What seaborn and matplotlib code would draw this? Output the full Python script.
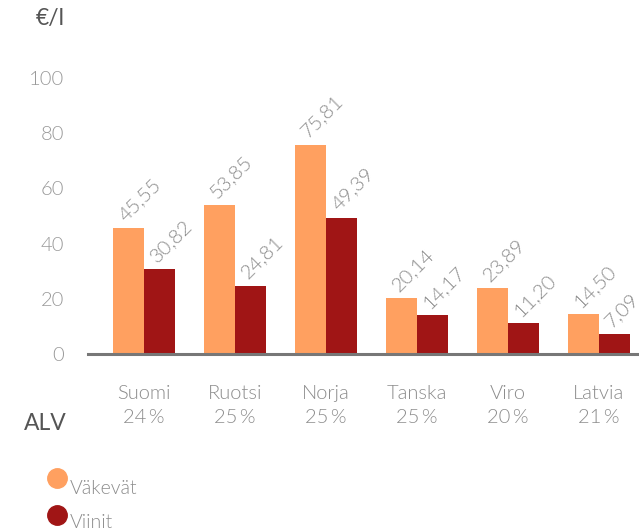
import matplotlib
matplotlib.use("Agg")
import matplotlib.pyplot as plt
import seaborn as sns
import pandas as pd
from matplotlib.lines import Line2D

countries = ["Suomi", "Ruotsi", "Norja", "Tanska", "Viro", "Latvia"]
vat = ["24\u2009%", "25\u2009%", "25\u2009%", "25\u2009%", "20\u2009%", "21\u2009%"]
vakevat = [45.55, 53.85, 75.81, 20.14, 23.89, 14.50]
viinit = [30.82, 24.81, 49.39, 14.17, 11.20, 7.09]
series = ["Väkevät", "Viinit"]
colors = ["#FFA060", "#A01515"]
yticks = [0, 20, 40, 60, 80, 100]

df = pd.DataFrame({
    "maa": countries * 2,
    "sarja": [series[0]] * len(countries) + [series[1]] * len(countries),
    "hinta": vakevat + viinit,
})

sns.set_theme(style="white")
plt.rcParams["font.family"] = ["Lato", "DejaVu Sans"]
LW = 300
GRAY = "#8c8c8c"

fig = plt.figure(figsize=(6.39, 5.32), dpi=100)
ax = fig.add_axes([88 / 639, (532 - 354) / 532, 1 - 88 / 639, (354 - 78) / 532])

sns.barplot(data=df, x="maa", y="hinta", hue="sarja", palette=colors,
            width=0.68, gap=0, saturation=1, ax=ax, legend=False, errorbar=None,
            linewidth=0, edgecolor="none")

ax.set_xlim(-0.615, 5.44)
ax.set_ylim(0, 100)
for s in ["top", "right", "left"]:
    ax.spines[s].set_visible(False)
ax.spines["bottom"].set_color("#777777")
ax.spines["bottom"].set_linewidth(2.2)
ax.set_xlabel("")
ax.set_ylabel("")
ax.set_yticks(yticks)
ax.set_yticklabels([str(v) for v in yticks], fontsize=14.5, color="#999999", fontweight=LW)
ax.tick_params(axis="y", length=0, pad=17)
ax.set_xticks(range(len(countries)))
ax.set_xticklabels([f"{c}\n{v}" for c, v in zip(countries, vat)], fontsize=14.5,
                   color=GRAY, fontweight=LW, linespacing=1.55)
ax.tick_params(axis="x", length=0, pad=22)

for cont in ax.containers:
    for bar in cont:
        h = bar.get_height()
        ax.text(bar.get_x() + 0.145, h + 2.2, f"{h:.2f}".replace(".", ","),
                rotation=45, rotation_mode="anchor", ha="left", va="baseline",
                fontsize=14.5, color=GRAY, fontweight=LW, clip_on=False)

fig.text(65 / 639, 1 - 19 / 532, "€/l", ha="right", va="center", fontsize=16.5, color="#555555")
fig.text(67 / 639, 1 - 423 / 532, "ALV", ha="right", va="center", fontsize=16.5, color="#555555")

for i, (lab, c) in enumerate(zip(series, colors)):
    yc = 1 - (478 + 37 * i) / 532
    fig.add_artist(Line2D([57 / 639], [yc], marker="o", linestyle="", markersize=14,
                          color=c, transform=fig.transFigure))
    fig.text(70 / 639, 1 - (488 + 35 * i) / 532, lab, ha="left", va="center",
             fontsize=14, color=GRAY, fontweight=LW)

fig.savefig("out.png", dpi=100)
